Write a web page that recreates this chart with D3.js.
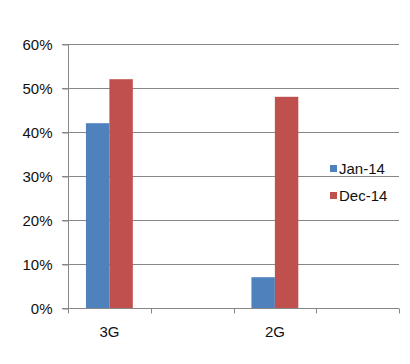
<!DOCTYPE html>
<html>
<head>
<meta charset="utf-8">
<script src="https://cdn.jsdelivr.net/npm/d3@7"></script>
<style>
  html, body { margin: 0; padding: 0; background: #fff; }
  text { font-family: "Liberation Sans", Arial, sans-serif; fill: #111; }
</style>
</head>
<body>
<div id="chart"></div>
<script>
const width = 410;
const height = 364;
const margin = { top: 44, right: 11, bottom: 56, left: 68 };

// data (blank categories are empty slots on the axis)
const categories = ["3G", "", "2G", ""];
const seriesNames = ["Jan-14", "Dec-14"];
const jan14 = [0.42, null, 0.07, null];
const dec14 = [0.52, null, 0.48, null];
const seriesColors = ["#4F81BD", "#C0504D"];
const yTicks = [0, 0.1, 0.2, 0.3, 0.4, 0.5, 0.6];

const seriesValues = [jan14, dec14];
const gridColor = "#878787";
const textColor = "#111";

const svg = d3
  .select("#chart")
  .append("svg")
  .attr("width", width)
  .attr("height", height);

let xScale = d3
  .scaleBand()
  .domain(d3.range(categories.length))
  .range([margin.left, width - margin.right])
  .paddingInner(0)
  .paddingOuter(0);

let xSub = d3
  .scaleBand()
  .domain(seriesNames)
  .range([0, xScale.bandwidth()])
  .paddingInner(0)
  .paddingOuter(0.766);

let yScale = d3
  .scaleLinear()
  .domain([0, 0.6])
  .range([height - margin.bottom, margin.top]);

// gridlines (run out past the axis as the tick marks)
svg
  .append("g")
  .selectAll("line")
  .data(yTicks)
  .join("line")
  .attr("x1", margin.left - 6)
  .attr("x2", width - margin.right)
  .attr("y1", (d) => Math.round(yScale(d)) + 0.5)
  .attr("y2", (d) => Math.round(yScale(d)) + 0.5)
  .attr("stroke", gridColor)
  .attr("stroke-width", 1);

// y axis labels
let yAxis = svg
  .append("g")
  .attr("transform", `translate(${margin.left + 0.5},0.5)`)
  .call(
    d3.axisLeft(yScale)
      .tickValues(yTicks)
      .tickFormat(d3.format(".0%"))
      .tickSize(6)
      .tickPadding(10)
  );
yAxis.select(".domain").attr("stroke", gridColor);
yAxis.selectAll(".tick line").attr("stroke", gridColor);
yAxis
  .selectAll(".tick text")
  .attr("font-size", 15)
  .attr("fill", textColor)
  .attr("font-family", "Liberation Sans, Arial, sans-serif");
yAxis.select(".domain").attr("d", `M0,${yScale(0.6)}V${yScale(0)}`);

// bars
seriesValues.forEach((values, s) => {
  svg
    .append("g")
    .selectAll("rect")
    .data(values.map((v, i) => ({ i, v })).filter((d) => d.v !== null))
    .join("rect")
    .attr("x", (d) => xScale(d.i) + xSub(seriesNames[s]))
    .attr("width", xSub.bandwidth())
    .attr("y", (d) => yScale(d.v))
    .attr("height", (d) => yScale(0) - yScale(d.v))
    .attr("fill", seriesColors[s]);
});

// x axis line, boundary ticks
const xBase = Math.round(yScale(0)) + 0.5;
let boundaries = d3.range(categories.length).map((i) => xScale(i));
boundaries.push(xScale.range()[1]);

svg
  .append("line")
  .attr("x1", margin.left)
  .attr("x2", width - margin.right)
  .attr("y1", xBase)
  .attr("y2", xBase)
  .attr("stroke", gridColor);

svg
  .append("g")
  .selectAll("line")
  .data(boundaries)
  .join("line")
  .attr("x1", (d) => Math.round(d) + 0.5)
  .attr("x2", (d) => Math.round(d) + 0.5)
  .attr("y1", xBase)
  .attr("y2", xBase + 5)
  .attr("stroke", gridColor);

let xAxis = svg
  .append("g")
  .attr("transform", `translate(0,${xBase})`)
  .call(
    d3.axisBottom(xScale)
      .tickFormat((i) => categories[i])
      .tickSize(0)
      .tickPadding(18)
  );
xAxis.select(".domain").remove();
xAxis
  .selectAll(".tick text")
  .attr("font-size", 15)
  .attr("fill", textColor)
  .attr("font-family", "Liberation Sans, Arial, sans-serif");

// legend
let legend = svg
  .append("g")
  .attr("transform", "translate(330,165)");

let legendItem = legend
  .selectAll("g")
  .data(seriesNames)
  .join("g")
  .attr("transform", (d, i) => `translate(0,${i * 27})`);

legendItem
  .append("rect")
  .attr("width", 7)
  .attr("height", 7)
  .attr("fill", (d, i) => seriesColors[i]);

legendItem
  .append("text")
  .attr("x", 9)
  .attr("y", 9)
  .attr("font-size", 15)
  .text((d) => d);
</script>
</body>
</html>
